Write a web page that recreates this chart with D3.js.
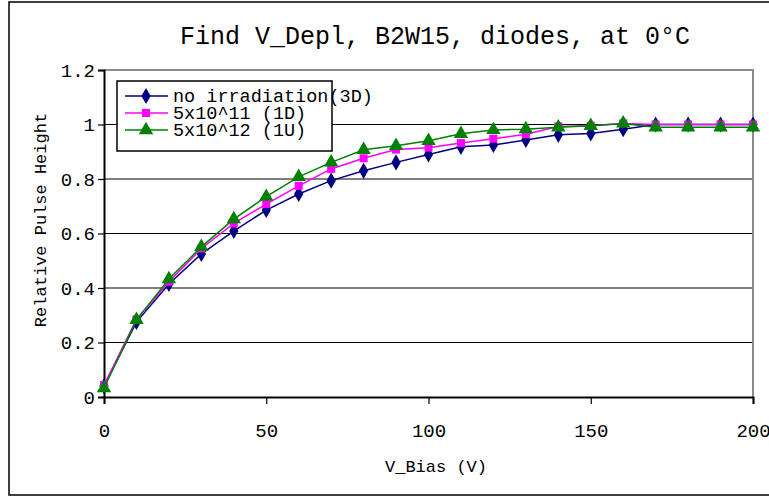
<!DOCTYPE html>
<html>
<head>
<meta charset="utf-8">
<script src="https://cdn.jsdelivr.net/npm/d3@7"></script>
<style>
  body { margin: 0; background: #fff; }
  svg text { font-family: "Liberation Mono", "Courier New", monospace; fill: #000; }
</style>
</head>
<body>
<div id="chart"></div>
<script>
// Data
const vBias = [0, 10, 20, 30, 40, 50, 60, 70, 80, 90, 100, 110, 120, 130, 140, 150, 160, 170, 180, 190, 200];
const noIrr = [0.04, 0.275, 0.415, 0.525, 0.609, 0.686, 0.745, 0.794, 0.83, 0.861, 0.89, 0.918, 0.925, 0.943, 0.962, 0.967, 0.983, 1.0, 1.0, 1.0, 1.0];
const irr11 = [0.044, 0.285, 0.423, 0.545, 0.637, 0.708, 0.775, 0.837, 0.876, 0.908, 0.915, 0.932, 0.948, 0.964, 0.993, 0.995, 1.004, 1.0, 1.0, 1.0, 1.0];
const irr12 = [0.033, 0.283, 0.433, 0.551, 0.653, 0.735, 0.808, 0.861, 0.907, 0.922, 0.94, 0.966, 0.98, 0.983, 0.99, 0.995, 1.004, 0.99, 0.99, 0.99, 0.99];
const seriesNames = ["no irradiation(3D)", "5x10^11 (1D)", "5x10^12 (1U)"];
const yTicks = [0, 0.2, 0.4, 0.6, 0.8, 1, 1.2];
const xTicks = [0, 50, 100, 150, 200];

const W = 769, H = 497;
const plot = { left: 104, top: 70, right: 753, bottom: 397 };

const svg = d3.select("#chart").append("svg")
  .attr("width", W).attr("height", H);

// outer frame
svg.append("rect")
  .attr("x", 9).attr("y", 2)
  .attr("width", 780).attr("height", 493)
  .attr("fill", "none").attr("stroke", "#000").attr("stroke-width", 1.5);

const x = d3.scaleLinear().domain([0, 200]).range([plot.left, plot.right]);
const y = d3.scaleLinear().domain([0, 1.2]).range([plot.bottom, plot.top]);

// gridlines
svg.append("g").selectAll("line")
  .data(yTicks.filter(d => d > 0 && d < 1.2))
  .enter().append("line")
  .attr("x1", plot.left).attr("x2", plot.right)
  .attr("y1", d => y(d)).attr("y2", d => y(d))
  .attr("stroke", "#000").attr("stroke-width", 1.2);

// plot border (top/right gray)
svg.append("path")
  .attr("d", `M${plot.left},${plot.top}H${plot.right}V${plot.bottom}`)
  .attr("fill", "none").attr("stroke", "#8c8c8c").attr("stroke-width", 2);

// axes
const yAxis = svg.append("g")
  .attr("transform", `translate(${plot.left},0)`)
  .call(d3.axisLeft(y).tickValues(yTicks).tickSize(6).tickPadding(3)
    .tickFormat(d => d === 0 || d === 1 ? d3.format("d")(d) : d3.format(".1f")(d)));
yAxis.select(".domain").attr("stroke-width", 2);
yAxis.selectAll(".tick line").attr("stroke-width", 1.2);
yAxis.selectAll("text").style("font-size", "19px");

const xAxis = svg.append("g")
  .attr("transform", `translate(0,${plot.bottom})`)
  .call(d3.axisBottom(x).tickValues(xTicks).tickSize(7).tickPadding(20));
xAxis.select(".domain").attr("stroke-width", 2);
xAxis.selectAll(".tick line").attr("stroke-width", 1.2);
xAxis.selectAll("text").style("font-size", "19px");

// titles
svg.append("text")
  .attr("x", 435).attr("y", 44)
  .attr("text-anchor", "middle")
  .style("font-size", "25px")
  .text("Find V_Depl, B2W15, diodes, at 0°C");

svg.append("text")
  .attr("x", 436).attr("y", 472)
  .attr("text-anchor", "middle")
  .style("font-size", "17px")
  .text("V_Bias (V)");

svg.append("text")
  .attr("transform", "translate(46,220) rotate(-90)")
  .attr("text-anchor", "middle")
  .style("font-size", "17px")
  .text("Relative Pulse Height");

// series
const colors = ["#000080", "#ff00ff", "#008000"];
const symbols = [d3.symbolDiamond, d3.symbolSquare, d3.symbolTriangle];
const sizes = [75, 64, 90];
const allSeries = [noIrr, irr11, irr12];

const line = d3.line().x((d, i) => x(vBias[i])).y(d => y(d));

allSeries.forEach((vals, s) => {
  svg.append("path")
    .datum(vals)
    .attr("d", line)
    .attr("fill", "none")
    .attr("stroke", colors[s])
    .attr("stroke-width", 1.5);
  svg.append("g").selectAll("path")
    .data(vals)
    .enter().append("path")
    .attr("transform", (d, i) => `translate(${x(vBias[i])},${y(d)})`)
    .attr("d", d3.symbol().type(symbols[s]).size(sizes[s]))
    .attr("fill", colors[s]);
});

// legend
const lg = svg.append("g");
lg.append("rect")
  .attr("x", 117).attr("y", 81)
  .attr("width", 215).attr("height", 70)
  .attr("fill", "#fff").attr("stroke", "#000").attr("stroke-width", 1.5);

seriesNames.forEach((name, s) => {
  const ly = 96 + s * 17;
  lg.append("line")
    .attr("x1", 125).attr("x2", 168)
    .attr("y1", ly).attr("y2", ly)
    .attr("stroke", colors[s]).attr("stroke-width", 1.5);
  lg.append("path")
    .attr("transform", `translate(146,${ly})`)
    .attr("d", d3.symbol().type(symbols[s]).size(sizes[s]))
    .attr("fill", colors[s]);
  lg.append("text")
    .attr("x", 173).attr("y", ly + 6)
    .style("font-size", "18.5px")
    .text(name);
});
</script>
</body>
</html>
